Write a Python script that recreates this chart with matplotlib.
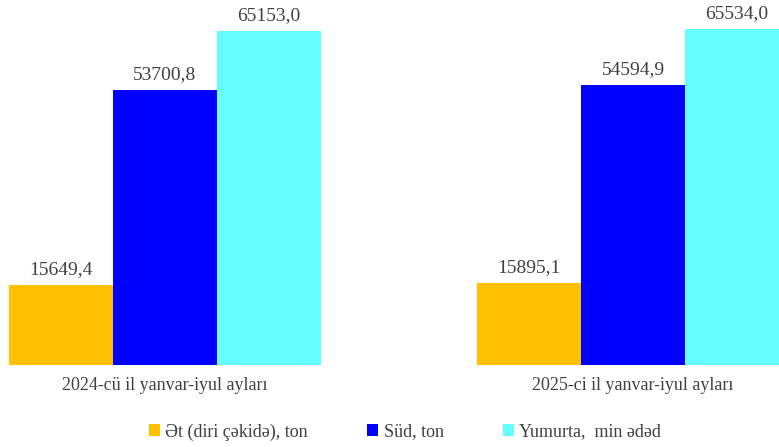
import matplotlib.pyplot as plt
import numpy as np
from matplotlib.patches import Patch

# Data
groups = ["2024-cü il yanvar-iyul ayları", "2025-ci il yanvar-iyul ayları"]
series = ["Ət (diri çəkidə), ton", "Süd, ton", "Yumurta,  min ədəd"]
meat = [15649.4, 15895.1]
milk = [53700.8, 54594.9]
eggs = [65153.0, 65534.0]
colors = ["#FFC000", "#0000FF", "#66FFFF"]

plt.rcParams['font.family'] = ['Liberation Serif', 'DejaVu Serif']
text_color = "#404040"

fig = plt.figure(figsize=(7.79, 4.47), dpi=100)
# axes stretches a little past the right edge, like the original
ax = fig.add_axes([9 / 779, 82 / 447, 780 / 779, 359 / 447])

x = np.arange(len(groups))
w = 0.2222
for i, (vals, col) in enumerate(zip([meat, milk, eggs], colors)):
    bars = ax.bar(x + (i - 1) * w, vals, width=w, color=col, linewidth=0)
    for b, v in zip(bars, vals):
        ax.annotate(f"{v:.1f}".replace(".", ","),
                    (b.get_x() + b.get_width() / 2, b.get_height()),
                    xytext=(0, 5), textcoords="offset points",
                    ha="center", va="bottom", fontsize=14, color=text_color)

ax.set_xlim(-1.5 * w, 1 + 1.5 * w)
ax.set_ylim(0, 70000)
ax.set_xticks(x)
ax.set_xticklabels(groups, fontsize=13, color=text_color)
ax.tick_params(axis="x", length=0, pad=9)
ax.set_yticks([])
for s in ax.spines.values():
    s.set_visible(False)

handles = [Patch(facecolor=c, label=l) for c, l in zip(colors, series)]
fig.legend(handles=handles, loc="lower center", bbox_to_anchor=(0.52, -0.022),
           ncol=3, frameon=False, labelcolor=text_color,
           prop={"family": ["Liberation Serif", "DejaVu Sans"], "size": 13},
           handlelength=0.6, handleheight=0.6, handletextpad=0.3,
           columnspacing=3.3)

fig.savefig("out.png", dpi=100)
